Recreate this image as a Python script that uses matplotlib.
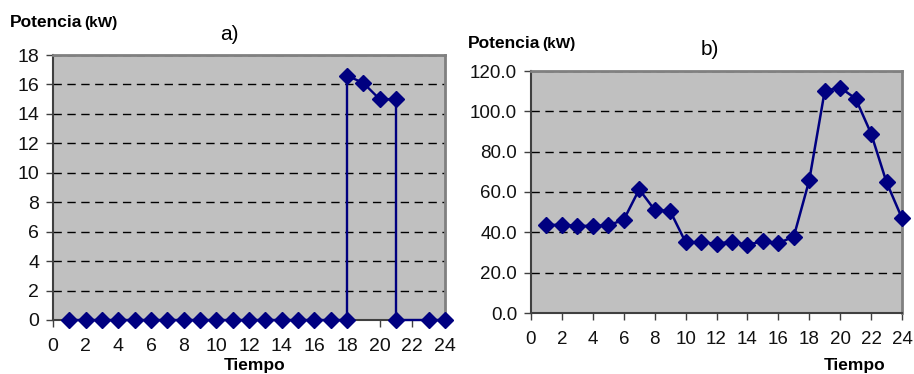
import matplotlib
matplotlib.use("Agg")
import matplotlib.pyplot as plt
from matplotlib.ticker import FormatStrFormatter

plt.rcParams['font.family'] = ['Liberation Sans', 'DejaVu Sans']

# Chart a) data (step-like series; hour 22 has no marker)
hours_a = [1, 2, 3, 4, 5, 6, 7, 8, 9, 10, 11, 12, 13, 14, 15, 16, 17, 18, 18, 19, 20, 21, 21, 23, 24]
power_a = [0, 0, 0, 0, 0, 0, 0, 0, 0, 0, 0, 0, 0, 0, 0, 0, 0, 0, 16.6, 16.1, 15.0, 15.0, 0, 0, 0]

# Chart b) data
hours_b = list(range(1, 25))
power_b = [43.7, 43.7, 43.2, 43.2, 43.5, 46.2, 61.3, 51.1, 50.6, 35.1, 35.1, 34.3,
           35.4, 33.8, 35.6, 34.6, 37.9, 65.8, 110.1, 111.8, 106.3, 89.0, 64.8, 47.0]

xticks = list(range(0, 25, 2))
yticks_a = list(range(0, 19, 2))
yticks_b = [0, 20, 40, 60, 80, 100, 120]

W, H = 914, 374
fig = plt.figure(figsize=(W / 100, H / 100), dpi=100)
fig.patch.set_facecolor('white')

navy = '#000080'
bg = '#c0c0c0'


def style(ax, ylim, yticks, fs):
    ax.set_facecolor(bg)
    ax.set_xlim(0, 24)
    ax.set_ylim(*ylim)
    ax.set_xticks(xticks)
    ax.set_yticks(yticks)
    ax.grid(axis='y', color='black', linestyle=(0, (6, 4)), linewidth=1)
    ax.set_axisbelow(True)
    for s in ['top', 'right']:
        ax.spines[s].set_color('#808080')
        ax.spines[s].set_linewidth(2)
    for s in ['left', 'bottom']:
        ax.spines[s].set_color('#404040')
        ax.spines[s].set_linewidth(1.5)
    ax.tick_params(axis='both', direction='out', length=5, width=1, color='#404040',
                   labelsize=fs, labelcolor='#111111')
    ax.tick_params(axis='x', pad=8)
    ax.tick_params(axis='y', pad=5)


def px(x, y):
    return x / W, 1 - y / H


# Axes a
ax1 = fig.add_axes([53 / W, 1 - 320 / H, (445 - 53) / W, (320 - 55) / H])
style(ax1, (0, 18), yticks_a, 14)
ax1.plot(hours_a, power_a, color=navy, linewidth=1.7, marker='D', markersize=8.5,
         clip_on=False, zorder=5)

# Axes b
ax2 = fig.add_axes([531 / W, 1 - 313 / H, (902 - 531) / W, (313 - 71) / H])
style(ax2, (0, 120), yticks_b, 13.5)
ax2.yaxis.set_major_formatter(FormatStrFormatter('%.1f'))
ax2.plot(hours_b, power_b, color=navy, linewidth=1.8, marker='D', markersize=8.5,
         clip_on=False, zorder=5)

# Texts
fig.text(*px(10, 27), 'Potencia', fontsize=12.5, fontweight='bold', ha='left', va='baseline')
fig.text(*px(84, 27), '(kW)', fontsize=11, fontweight='bold', ha='left', va='baseline')
fig.text(*px(229, 40), 'a)', fontsize=15, ha='center', va='baseline')
fig.text(*px(255, 370), 'Tiempo', fontsize=12.5, fontweight='bold', ha='center', va='baseline')

fig.text(*px(468, 48), 'Potencia', fontsize=12.5, fontweight='bold', ha='left', va='baseline')
fig.text(*px(542, 48), '(kW)', fontsize=11, fontweight='bold', ha='left', va='baseline')
fig.text(*px(710, 55), 'b)', fontsize=15, ha='center', va='baseline')
fig.text(*px(855, 370), 'Tiempo', fontsize=12.5, fontweight='bold', ha='center', va='baseline')

fig.savefig('out.png', dpi=100)
